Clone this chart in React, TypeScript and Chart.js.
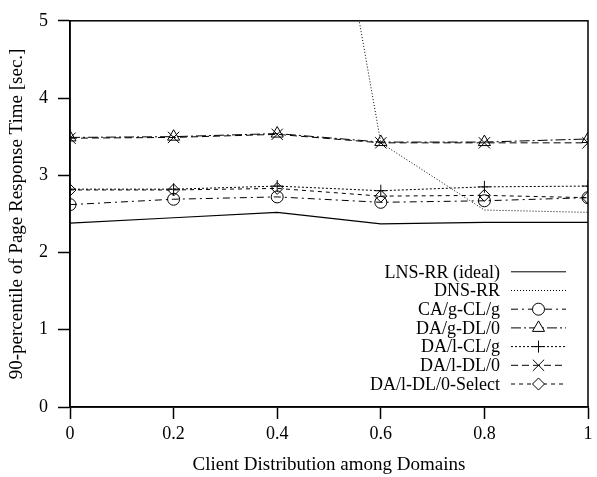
import React, { useEffect, useRef } from "react";
import { Chart, registerables } from "chart.js";
import { drawPoint } from "chart.js/helpers";

Chart.register(...registerables);

// Share of clients spread across domains (x axis)
const distribution = [0, 0.2, 0.4, 0.6, 0.8, 1];

// 90-percentile page response time in seconds, per scheme
const lnsRR = [2.38, 2.45, 2.52, 2.37, 2.39, 2.39];
const dnsRR = [16, 13, 11, 3.42, 2.55, 2.52];
const caGClG = [2.62, 2.69, 2.72, 2.65, 2.67, 2.71];
const daGDl0 = [3.49, 3.5, 3.54, 3.43, 3.43, 3.47];
const daLClG = [2.82, 2.82, 2.86, 2.8, 2.85, 2.86];
const daLDl0 = [3.48, 3.49, 3.53, 3.42, 3.42, 3.42];
const daLDl0Select = [2.81, 2.81, 2.83, 2.73, 2.74, 2.71];

const xTicks = [0, 0.2, 0.4, 0.6, 0.8, 1];
const yTicks = [0, 1, 2, 3, 4, 5];

const FAMILY = "'Liberation Serif', 'DejaVu Serif', serif";
const FONT = { family: FAMILY, size: 18 };
const TITLE_FONT = { family: FAMILY, size: 19 };

type Series = {
  label: string;
  values: number[];
  dash: number[];
  pointStyle: any;
  radius: number;
};

const series: Series[] = [
  { label: "LNS-RR (ideal)", values: lnsRR, dash: [], pointStyle: false, radius: 0 },
  { label: "DNS-RR", values: dnsRR, dash: [1, 2], pointStyle: false, radius: 0 },
  { label: "CA/g-CL/g", values: caGClG, dash: [7, 4, 2, 4], pointStyle: "circle", radius: 6 },
  { label: "DA/g-DL/0", values: daGDl0, dash: [10, 3, 2, 3], pointStyle: "triangle", radius: 7 },
  { label: "DA/l-CL/g", values: daLClG, dash: [2, 2], pointStyle: "cross", radius: 6 },
  { label: "DA/l-DL/0", values: daLDl0, dash: [7, 4], pointStyle: "crossRot", radius: 8 },
  { label: "DA/l-DL/0-Select", values: daLDl0Select, dash: [4, 4], pointStyle: "rectRot", radius: 6 },
];

// Closes the plot frame on the top and right sides
const framePlugin = {
  id: "plotFrame",
  afterDraw(chart: any) {
    const { ctx, chartArea } = chart;
    ctx.save();
    ctx.strokeStyle = "#000";
    ctx.lineWidth = 1.5;
    ctx.strokeRect(chartArea.left, chartArea.top, chartArea.right - chartArea.left, chartArea.bottom - chartArea.top);
    ctx.restore();
  },
};

// Key drawn inside the plot, bottom-right, with line sample and marker
const insetLegendPlugin = {
  id: "insetLegend",
  afterDatasetsDraw(chart: any) {
    const { ctx, chartArea } = chart;
    const n = series.length;
    const rowGap = 18.7;
    const textRight = chartArea.right - 88;
    const lineStart = chartArea.right - 77;
    const lineEnd = chartArea.right - 22;
    const markX = (lineStart + lineEnd) / 2;
    ctx.save();
    ctx.font = `${FONT.size}px ${FONT.family}`;
    ctx.fillStyle = "#000";
    ctx.textAlign = "right";
    ctx.textBaseline = "middle";
    series.forEach((s, i) => {
      const y = chartArea.bottom - 23 - (n - 1 - i) * rowGap;
      ctx.fillText(s.label, textRight, y + 1);
      ctx.beginPath();
      ctx.setLineDash(s.dash);
      ctx.lineWidth = 1;
      ctx.strokeStyle = "#000";
      ctx.moveTo(lineStart, y);
      ctx.lineTo(lineEnd, y);
      ctx.stroke();
      ctx.setLineDash([]);
      if (s.pointStyle) {
        ctx.fillStyle = "#fff";
        ctx.strokeStyle = "#000";
        ctx.lineWidth = 1;
        drawPoint(ctx, { pointStyle: s.pointStyle, radius: s.radius, rotation: 0, borderWidth: 1 }, markX, y);
        ctx.fillStyle = "#000";
      }
    });
    ctx.restore();
  },
};

export default function App() {
  const canvasRef = useRef<HTMLCanvasElement | null>(null);

  useEffect(() => {
    const canvas = canvasRef.current;
    if (!canvas) return;

    const datasets = series.map((s) => ({
      label: s.label,
      data: distribution.map((x, i) => ({ x, y: s.values[i] })),
      borderColor: "#000",
      backgroundColor: "rgba(255,255,255,0)",
      borderWidth: s.dash.length ? 1 : 1.2,
      borderDash: s.dash,
      pointStyle: s.pointStyle,
      pointRadius: s.radius,
      pointBorderWidth: 1,
      pointBorderColor: "#000",
      pointBackgroundColor: "rgba(255,255,255,0)",
      tension: 0,
      fill: false,
    }));

    const chart = new Chart(canvas, {
      type: "line",
      data: { datasets },
      options: {
        animation: false,
        responsive: false,
        devicePixelRatio: 1,
        layout: { padding: { top: 14, right: 5, left: 0, bottom: 0 } },
        plugins: { legend: { display: false }, tooltip: { enabled: false } },
        scales: {
          x: {
            type: "linear",
            min: 0,
            max: 1,
            afterBuildTicks: (s: any) => {
              s.ticks = xTicks.map((v) => ({ value: v }));
            },
            afterFit: (s: any) => {
              s.height = 70;
            },
            grid: { drawOnChartArea: false, drawTicks: true, tickLength: 12, tickColor: "#000", tickWidth: 1.5 },
            border: { display: true, color: "#000", width: 1.5 },
            ticks: { color: "#000", font: FONT, padding: 4, maxRotation: 0, callback: (v: any) => String(v) },
            title: {
              display: true,
              text: "Client Distribution among Domains",
              color: "#000",
              font: TITLE_FONT,
              padding: { top: 1, bottom: 1 },
            },
          },
          y: {
            type: "linear",
            min: 0,
            max: 5,
            afterBuildTicks: (s: any) => {
              s.ticks = yTicks.map((v) => ({ value: v }));
            },
            afterFit: (s: any) => {
              s.width = 70;
            },
            grid: { drawOnChartArea: false, drawTicks: true, tickLength: 12, tickColor: "#000", tickWidth: 1.5 },
            border: { display: true, color: "#000", width: 1.5 },
            ticks: { color: "#000", font: FONT, padding: 10, callback: (v: any) => String(v) },
            title: {
              display: true,
              text: "90-percentile of Page Response Time [sec.]",
              color: "#000",
              font: TITLE_FONT,
              padding: { top: 6, bottom: 6 },
            },
          },
        },
      },
      plugins: [insetLegendPlugin, framePlugin],
    });

    return () => chart.destroy();
  }, []);

  return (
    <div style={{ position: "absolute", left: 0, top: 0, width: 597, height: 477, background: "#fff" }}>
      <canvas ref={canvasRef} width={597} height={477} />
    </div>
  );
}
